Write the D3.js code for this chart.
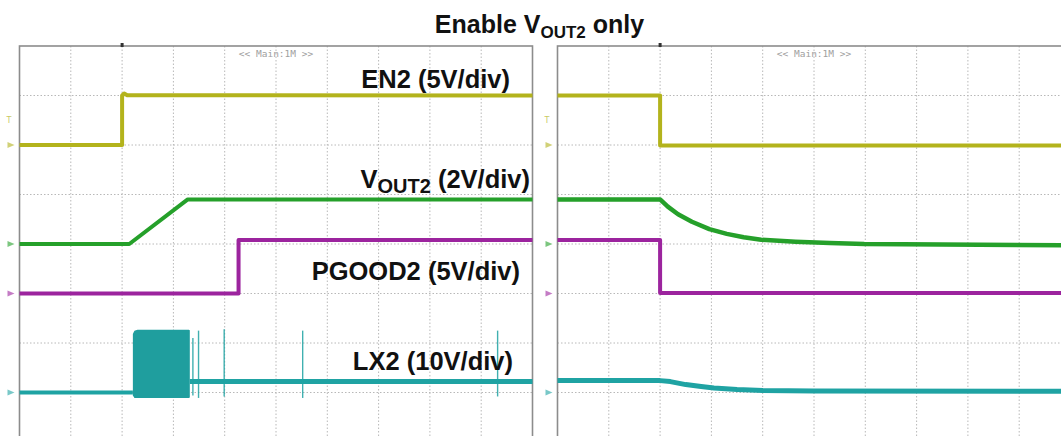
<!DOCTYPE html>
<html><head><meta charset="utf-8">
<script src="https://cdn.jsdelivr.net/npm/d3@7"></script>
<style>body{margin:0;background:#fff} svg{display:block}</style>
</head><body><svg id="c" width="1061" height="436"></svg>
<script>
// ---------- DATA (time in divisions, values in volts) ----------
const titleMain = "Enable V";
const titleSub = "OUT2";
const titleEnd = " only";
const channelNames = ["EN2", "VOUT2", "PGOOD2", "LX2"];
const channelVoltsPerDiv = [5, 2, 5, 10];
const channelGroundDiv = [6, 4, 3, 1];            // ground level, divisions from bottom
const channelColors = ["#b3b31c", "#25a02a", "#9c249e", "#1fa3a3"];
const labelMain = ["EN2", "V", "PGOOD2", "LX2"];
const labelSub = ["", "OUT2", "", ""];
const labelRest = [" (5V/div)", " (2V/div)", " (5V/div)", " (10V/div)"];
const timebaseText = "<< Main:1M >>";

// left panel: enable
const en2On = [[0,0],[2.0,0],[2.0,5.0],[2.04,5.2],[2.1,5.02],[10,5.0]];
const vout2On = [[0,0],[2.14,0],[3.28,1.8],[10,1.8]];
const pgood2On = [[0,0],[4.27,0],[4.27,5.4],[10,5.4]];
const lx2OnBefore = [[0,0],[2.21,0]];
const lx2OnAfter = [[3.32,2.2],[10,2.2]];
const lx2BurstTime = [2.21, 2.24, 2.3, 3.3, 3.32];
const lx2BurstMax = [11.8, 12.5, 12.7, 12.7, 12.6];
const lx2BurstMin = [-0.6, -1.1, -1.1, -1.1, -1.0];
const lx2SpikeTime = [3.38, 3.49, 3.99, 5.52, 9.32];
const lx2SpikeMax = [11.0, 12.5, 12.8, 12.5, 12.5];
const lx2SpikeMin = [-0.6, -1.1, -0.8, -1.1, -0.8];

// right panel: disable
const en2Off = [[0,5.0],[2.0,5.0],[2.0,-0.05],[10,-0.05]];
const vout2Off = [[0,1.8],[2.0,1.8],[2.15,1.51],[2.35,1.2],[2.62,0.9],[2.96,0.6],[3.3,0.41],[3.63,0.27],[3.97,0.17],[4.64,0.09],[5.31,0.04],[5.98,0.0],[10,-0.05]];
const pgood2Off = [[0,5.4],[2.0,5.4],[2.0,0.05],[10,0.05]];
const lx2Off = [[0,2.4],[2.0,2.4],[2.2,2.2],[2.5,1.6],[2.8,1.2],[3.05,0.9],[3.5,0.6],[4.0,0.4],[5,0.3],[10,0.25]];

// ---------- DRAW ----------
const svg = d3.select("#c");
svg.append("rect").attr("width",1061).attr("height",436).attr("fill","#fff");

const divW = 51.3, divH = 49.5, topY = 46;
const panels = [{x0:19.5}, {x0:557.5}];

function makeScales(x0){
  const x = d3.scaleLinear().domain([0,10]).range([x0, x0+10*divW]);
  const yDiv = d3.scaleLinear().domain([0,8]).range([topY+8*divH, topY]);
  const y = ch => v => yDiv(channelGroundDiv[ch] + v/channelVoltsPerDiv[ch]);
  return {x, yDiv, y};
}

panels.forEach((p,pi)=>{
  const s = makeScales(p.x0);
  p.s = s;
  const g = svg.append("g");
  const gx = d3.range(1,10), gy = d3.range(1,8);
  g.selectAll(".vg").data(gx).join("line")
    .attr("x1",d=>s.x(d)).attr("x2",d=>s.x(d)).attr("y1",topY).attr("y2",topY+8*divH)
    .attr("stroke","#b8b8b8").attr("stroke-width",1).attr("stroke-dasharray","1.5,2");
  g.selectAll(".hg").data(gy).join("line")
    .attr("y1",d=>s.yDiv(d)).attr("y2",d=>s.yDiv(d)).attr("x1",s.x(0)).attr("x2",s.x(10))
    .attr("stroke","#b8b8b8").attr("stroke-width",1).attr("stroke-dasharray","1.5,2");
  g.append("rect").attr("x",s.x(0)).attr("y",topY).attr("width",10*divW).attr("height",8*divH)
    .attr("fill","none").attr("stroke","#8c8c8c").attr("stroke-width",1.6);
  g.append("rect").attr("x",s.x(2)-1.5).attr("y",topY-3).attr("width",3).attr("height",4).attr("fill","#333");
  g.append("text").attr("x",s.x(5)).attr("y",topY+11).attr("text-anchor","middle")
    .attr("font-family","DejaVu Sans Mono, monospace").attr("font-size",9.5).attr("fill","#a0a0a0")
    .text(timebaseText);
  const mx = s.x(0) - 8;
  [0,1,2,3].forEach(ch=>{
    const yy = s.yDiv(channelGroundDiv[ch]);
    g.append("path").attr("d",`M${mx-4},${yy-3}L${mx+3},${yy}L${mx-4},${yy+3}Z`)
      .attr("fill",channelColors[ch]).attr("opacity",0.6);
  });
  g.append("text").attr("x",mx-5).attr("y",s.yDiv(channelGroundDiv[0]+0.5)+3)
    .attr("font-family","DejaVu Sans, sans-serif").attr("font-size",8).attr("fill",channelColors[0]).attr("opacity",0.7).text("T");
});

const line = (s,ch) => d3.line().x(d=>s.x(d[0])).y(d=>s.y(ch)(d[1]));

function trace(s, ch, data, w){
  svg.append("path").datum(data).attr("d", line(s,ch)).attr("fill","none")
    .attr("stroke",channelColors[ch]).attr("stroke-width",w||4).attr("stroke-linejoin","round");
}

const L = panels[0].s, R = panels[1].s;
trace(L,0,en2On); trace(L,1,vout2On); trace(L,2,pgood2On);
trace(L,3,lx2OnBefore); trace(L,3,lx2OnAfter,5);
const burst = lx2BurstTime.map((t,i)=>({t, hi:lx2BurstMax[i], lo:lx2BurstMin[i]}));
svg.append("path").datum(burst)
  .attr("d", d3.area().x(d=>L.x(d.t)).y0(d=>L.y(3)(d.lo)).y1(d=>L.y(3)(d.hi)))
  .attr("fill","#1f9e9e");
svg.selectAll(".sp").data(lx2SpikeTime.map((t,i)=>({t,hi:lx2SpikeMax[i],lo:lx2SpikeMin[i]}))).join("line")
  .attr("x1",d=>L.x(d.t)).attr("x2",d=>L.x(d.t)).attr("y1",d=>L.y(3)(d.hi)).attr("y2",d=>L.y(3)(d.lo))
  .attr("stroke",channelColors[3]).attr("stroke-width",1.4).attr("opacity",0.85);

trace(R,0,en2Off); trace(R,1,vout2Off,4.5); trace(R,2,pgood2Off); trace(R,3,lx2Off,5);

const font = "Liberation Sans, Arial, Helvetica, sans-serif";
const labelX = [510, 530, 520, 513];
const labelY = [88, 188, 280, 370];
[0,1,2,3].forEach(i=>{
  const t = svg.append("text").attr("x",labelX[i]).attr("y",labelY[i]).attr("text-anchor","end")
    .attr("font-family",font).attr("font-weight","bold").attr("font-size",25.5).attr("fill","#111");
  t.append("tspan").text(labelMain[i]);
  if(labelSub[i]){
    t.append("tspan").attr("font-size",20).attr("dy",5).text(labelSub[i]);
    t.append("tspan").attr("dy",-5).text(labelRest[i]);
  } else t.append("tspan").text(labelRest[i]);
});

const tt = svg.append("text").attr("x",539.5).attr("y",33).attr("text-anchor","middle")
  .attr("font-family",font).attr("font-weight","bold").attr("font-size",25).attr("fill","#111");
tt.append("tspan").text(titleMain);
tt.append("tspan").attr("font-size",17).attr("dy",5).text(titleSub);
tt.append("tspan").attr("dy",-5).text(titleEnd);
</script></body></html>
